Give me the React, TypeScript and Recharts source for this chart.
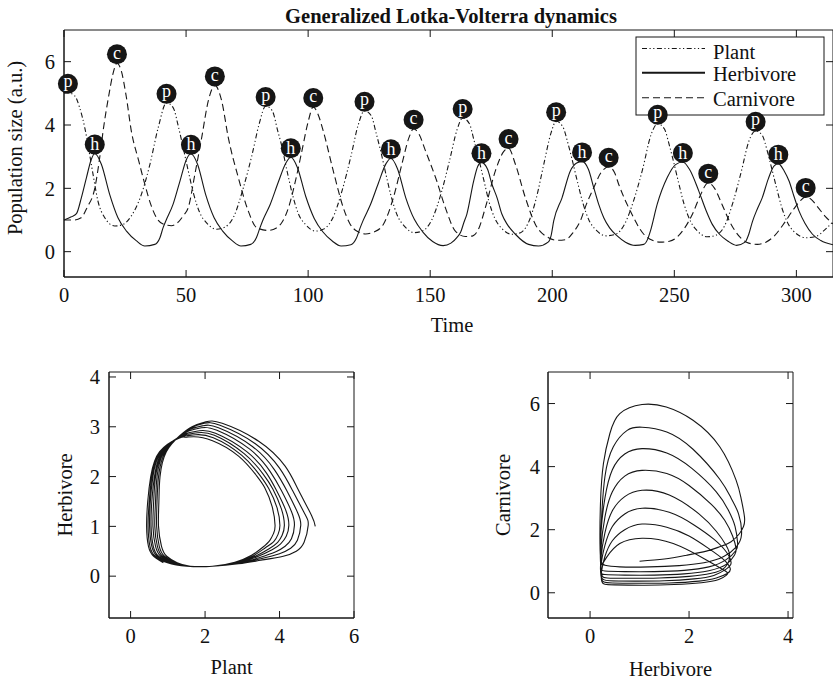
import React from "react";
import { LineChart, Line, XAxis, YAxis, ReferenceArea } from "recharts";

const FONT = "'Liberation Serif', 'Times New Roman', Times, serif";
const INK = "#161616";

// axis ticks
const timeTicks = [0, 50, 100, 150, 200, 250, 300];
const popTicks = [0, 2, 4, 6];
const phPlantTicks = [0, 2, 4, 6];
const phHerbTicks = [0, 1, 2, 3, 4];
const hcHerbTicks = [0, 2, 4];
const hcCarnTicks = [0, 2, 4, 6];

// time series [time, value]
const plantSeries: [number, number][] = [
  [0, 5.0], [1.5, 5.02], [4.4, 4.92], [6.4, 4.55], [8.5, 3.92], [10.5, 3.07], [11.9, 2.44], [13.9, 1.6], [16.7, 1.07], [20.8, 0.81], [24.2, 0.86], [27.6, 1.13], [31.7, 1.81], [35.2, 2.76], [38.6, 3.92],
  [42, 4.7], [44.7, 4.55], [47, 3.9], [48.2, 3.5], [50.9, 2.55], [53, 1.85], [55.5, 1.25], [58.5, 0.9], [62.5, 0.71], [66, 0.78], [69.5, 1.1], [73.4, 2.0], [77, 3.05], [80, 4.05],
  [82.6, 4.6], [85.3, 4.45], [87.6, 3.8], [89, 3.4], [91.5, 2.5], [93.6, 1.8], [96, 1.2], [99, 0.85], [103, 0.65], [106.5, 0.72], [110, 1.05], [114, 1.95], [117.5, 3.0], [120.5, 4.0],
  [123.1, 4.45], [125.8, 4.3], [128, 3.7], [129.5, 3.25], [132, 2.4], [134, 1.75], [136.5, 1.15], [139.5, 0.8], [143.5, 0.6], [147, 0.66], [150.5, 0.98], [154.5, 1.85], [158, 2.9], [161, 3.85],
  [163.3, 4.22], [166, 4.05], [168, 3.5], [169.5, 3.05], [172, 2.25], [174, 1.6], [176.5, 1.05], [179.5, 0.72], [183.5, 0.55], [187, 0.6], [190, 0.88], [193.5, 1.7], [196.5, 2.75], [199.5, 3.75],
  [201.6, 4.12], [204.3, 3.95], [206.5, 3.4], [208, 2.95], [210.5, 2.15], [212.5, 1.55], [215, 1.0], [218, 0.68], [222, 0.5], [226, 0.55], [229.5, 0.85], [233.5, 1.65], [237, 2.6], [240.5, 3.7],
  [243.2, 4.04], [245.9, 3.88], [248, 3.35], [249.5, 2.9], [252, 2.1], [254, 1.5], [256.5, 0.98], [259.5, 0.65], [263.5, 0.47], [267, 0.52], [270.5, 0.8], [274, 1.55], [277.5, 2.55], [280.5, 3.48],
  [283.3, 3.82], [286, 3.68], [288, 3.2], [289.5, 2.75], [292, 1.98], [294, 1.4], [296.5, 0.9], [299.5, 0.6], [304, 0.44], [308, 0.48], [311.5, 0.68], [315, 0.95],
];

const herbSeries: [number, number][] = [
  [0, 1.0], [3, 1.1], [5.1, 1.2], [7.1, 1.7], [9.2, 2.34], [11.2, 2.92], [12.6, 3.1], [15.3, 2.76], [18.7, 1.81], [22.1, 1.07], [25.6, 0.65], [29.7, 0.34], [33.1, 0.18], [37.2, 0.23], [39.3, 0.44], [40.6, 0.76], [41.7, 0.97], [44.7, 1.5], [47.5, 2.23], [50.2, 2.92],
  [52, 3.09], [54.7, 2.76], [58, 1.81], [61.5, 1.07], [65, 0.65], [69, 0.34], [72.5, 0.18], [76.5, 0.23], [78.8, 0.44], [80.3, 0.76], [81.5, 1.0], [84.5, 1.5], [87.8, 2.2], [90.9, 2.8],
  [92.9, 2.98], [95.6, 2.66], [99, 1.75], [102.5, 1.05], [106, 0.63], [110, 0.33], [113.5, 0.18], [117.5, 0.22], [119.8, 0.43], [121.3, 0.75], [122.5, 0.98], [125.5, 1.48], [128.8, 2.17], [131.9, 2.78],
  [133.9, 2.95], [136.6, 2.62], [140, 1.7], [143.5, 1.02], [147, 0.62], [151, 0.32], [155.3, 0.19], [158.5, 0.27], [161, 0.45], [162.5, 0.62], [163.8, 0.92], [165, 1.18], [167.8, 2.23], [169.5, 2.7],
  [171, 2.82], [173.5, 2.6], [175.3, 2.13], [177.4, 1.7], [179.4, 1.18], [181.5, 0.87], [184.9, 0.55], [190.3, 0.23], [194.4, 0.18], [198.3, 0.3], [199.5, 0.5], [200.6, 0.97], [204, 1.7], [207.4, 2.55], [210, 2.8],
  [212.2, 2.85], [214.8, 2.6], [217, 2.02], [219, 1.5], [221.1, 1.07], [223.5, 0.75], [226.6, 0.5], [230, 0.3], [234, 0.2], [237.5, 0.23], [239, 0.38], [240.2, 0.65], [243, 1.5], [247.1, 2.34], [250.5, 2.75],
  [253.5, 2.83], [256.2, 2.6], [260, 1.92], [263, 1.3], [265.5, 0.87], [268.5, 0.55], [272, 0.33], [275.5, 0.2], [279, 0.3], [280.5, 0.55], [282, 0.95], [284, 1.35], [286, 1.7], [288.5, 2.3], [290.8, 2.7],
  [292.6, 2.78], [295, 2.55], [297, 2.23], [299, 1.75], [301.1, 1.28], [303.5, 0.9], [306.6, 0.55], [310, 0.35], [315, 0.22],
];

const carnSeries: [number, number][] = [
  [0, 1.0], [4, 1.0], [7, 1.07], [9.5, 1.4], [12.6, 2.0], [14.5, 2.9], [16, 3.8], [18.5, 5.0], [20, 5.6], [21.7, 5.95], [23.5, 5.7], [25.5, 4.9], [27.6, 3.8], [30.5, 2.9], [33.1, 2.13], [35.5, 1.5], [37.9, 1.07], [41, 0.86], [44, 0.82], [47, 0.95], [49, 1.15],
  [50.9, 1.39], [53.6, 2.44], [56.4, 3.6], [59.1, 4.76], [61.8, 5.25], [64.6, 4.76], [67.3, 3.6], [71.4, 2.34], [75.5, 1.28], [78.9, 0.76], [83.5, 0.67], [87, 0.75], [89.5, 0.95],
  [92, 1.4], [95, 2.3], [97.5, 3.2], [100, 4.1], [102.1, 4.57], [104, 4.35], [106.2, 3.81], [110.3, 2.55], [114.4, 1.39], [117, 0.9], [119.9, 0.65], [123.5, 0.56], [127, 0.62], [130.8, 0.86],
  [134.9, 1.7], [138.4, 2.76], [141.3, 3.6], [143.2, 3.88], [145.5, 3.7], [148, 3.2], [152.7, 2.23], [156.2, 1.39], [160.3, 0.65], [164.4, 0.48], [167.5, 0.5], [170, 0.75],
  [172.6, 1.39], [176.7, 2.55], [180, 3.15], [182.1, 3.27], [184.9, 2.76], [189, 1.7], [193.1, 0.86], [198.5, 0.44], [202, 0.36], [205.5, 0.38], [208.5, 0.6],
  [211.5, 0.97], [214, 1.5], [217, 2.02], [220, 2.5], [223.1, 2.68], [225.5, 2.5], [227.2, 2.13], [232, 1.28], [237.5, 0.55], [241, 0.36], [244.3, 0.3], [248, 0.33], [251, 0.45],
  [254, 0.72], [257.5, 1.2], [260.5, 1.75], [263.9, 2.18], [266.5, 2.0], [269.5, 1.5], [273, 0.9], [277, 0.45], [280.5, 0.27], [284, 0.23], [287.5, 0.3], [291, 0.5],
  [295, 0.9], [298.5, 1.3], [301.5, 1.6], [303.8, 1.73], [306.5, 1.62], [309, 1.38], [312, 1.1], [315, 0.88],
];

// peaks, labelled with a letter marker
const plantPeaks: [number, number][] = [[1.6, 5.02], [42, 4.7], [82.6, 4.6], [123.1, 4.45], [163.3, 4.22], [201.6, 4.12], [243.2, 4.04], [283.3, 3.82]];
const herbPeaks: [number, number][] = [[12.6, 3.1], [52, 3.09], [92.9, 2.98], [133.9, 2.95], [171, 2.82], [212.2, 2.85], [253.5, 2.83], [292.6, 2.78]];
const carnPeaks: [number, number][] = [[21.7, 5.95], [61.8, 5.25], [102.1, 4.57], [143.2, 3.88], [182.1, 3.27], [223.1, 2.68], [263.9, 2.18], [303.8, 1.73]];

// phase path: [plant, herbivore]
const plantHerbPath: [number, number][] = [
  [4.96, 1.0], [4.86, 1.22], [4.5, 1.74], [4.15, 2.21], [3.44, 2.71], [2.46, 3.07], [2.02, 3.1], [1.65, 3.0], [1.32, 2.82],
  [0.96, 2.5], [0.79, 2.0], [0.76, 1.5], [0.75, 1.0], [0.83, 0.6], [0.97, 0.4], [1.25, 0.27], [1.6, 0.2],
  [2.2, 0.2], [2.9, 0.25], [3.5, 0.32], [4.1, 0.4], [4.45, 0.5], [4.66, 0.68],
  [4.77, 1.02], [4.68, 1.25], [4.35, 1.72], [4.0, 2.17], [3.35, 2.66], [2.4, 3.03], [1.98, 3.07], [1.63, 2.98], [1.32, 2.81],
  [0.93, 2.5], [0.75, 2.0], [0.71, 1.5], [0.7, 1.0], [0.77, 0.6], [0.91, 0.4], [1.2, 0.27], [1.58, 0.2],
  [2.2, 0.2], [2.9, 0.26], [3.5, 0.35], [4.0, 0.45], [4.3, 0.56], [4.48, 0.72],
  [4.57, 1.02], [4.49, 1.27], [4.2, 1.71], [3.87, 2.13], [3.28, 2.6], [2.36, 2.98], [1.94, 3.02], [1.6, 2.95], [1.31, 2.8],
  [0.9, 2.5], [0.71, 2.0], [0.67, 1.5], [0.65, 1.0], [0.72, 0.6], [0.86, 0.4], [1.16, 0.27], [1.57, 0.2],
  [2.2, 0.2], [2.9, 0.26], [3.45, 0.37], [3.9, 0.49], [4.15, 0.6], [4.32, 0.75],
  [4.4, 1.02], [4.32, 1.3], [4.05, 1.72], [3.75, 2.1], [3.2, 2.55], [2.32, 2.93], [1.9, 2.98], [1.58, 2.92], [1.31, 2.8],
  [0.88, 2.5], [0.67, 2.0], [0.62, 1.5], [0.6, 1.0], [0.67, 0.6], [0.81, 0.4], [1.11, 0.27], [1.55, 0.2],
  [2.2, 0.2], [2.9, 0.27], [3.4, 0.39], [3.8, 0.53], [4.03, 0.65], [4.18, 0.8],
  [4.25, 1.02], [4.17, 1.32], [3.92, 1.72], [3.65, 2.07], [3.12, 2.5], [2.28, 2.87], [1.85, 2.92], [1.56, 2.88], [1.31, 2.8],
  [0.85, 2.5], [0.64, 2.0], [0.57, 1.5], [0.55, 1.0], [0.61, 0.6], [0.75, 0.4], [1.06, 0.27], [1.54, 0.2],
  [2.2, 0.2], [2.85, 0.27], [3.35, 0.4], [3.72, 0.55], [3.95, 0.68], [4.07, 0.82],
  [4.13, 1.02], [4.05, 1.35], [3.82, 1.75], [3.56, 2.05], [3.05, 2.46], [2.25, 2.83], [1.8, 2.88], [1.53, 2.85], [1.31, 2.79],
  [0.82, 2.5], [0.6, 2.0], [0.53, 1.5], [0.51, 1.0], [0.57, 0.6], [0.71, 0.4], [1.02, 0.27], [1.52, 0.2],
  [2.2, 0.2], [2.85, 0.28], [3.3, 0.41], [3.62, 0.57], [3.85, 0.7], [3.96, 0.84],
  [4.01, 1.02], [3.93, 1.38], [3.71, 1.76], [3.47, 2.03], [2.98, 2.43], [2.22, 2.78], [1.75, 2.84], [1.5, 2.82], [1.3, 2.78],
  [0.8, 2.5], [0.57, 2.0], [0.5, 1.5], [0.47, 1.0], [0.52, 0.6], [0.66, 0.4], [0.99, 0.27], [1.51, 0.2],
  [2.2, 0.2], [2.8, 0.28], [3.25, 0.42], [3.55, 0.58], [3.74, 0.72], [3.84, 0.86],
  [3.88, 1.02], [3.8, 1.4], [3.6, 1.78], [3.38, 2.02], [2.9, 2.41], [2.2, 2.72], [1.7, 2.8], [1.48, 2.79], [1.3, 2.77],
  [0.78, 2.5], [0.54, 2.0], [0.46, 1.5], [0.43, 1.0], [0.48, 0.6], [0.62, 0.4], [0.88, 0.27],
];

// phase path: [herbivore, carnivore]
const herbCarnPath: [number, number][] = [
  [1.0, 1.0], [1.5, 1.07], [1.95, 1.19], [2.35, 1.32], [2.62, 1.46], [2.85, 1.62], [3.02, 1.88], [3.1, 2.1],
  [3.12, 2.4], [3.05, 3.0], [2.95, 3.57], [2.62, 4.63], [2.08, 5.47], [1.54, 5.89], [1.05, 5.97], [0.6, 5.68], [0.4, 5.05], [0.27, 4.1], [0.21, 2.83], [0.2, 1.56], [0.22, 1.0], [0.3, 0.87], [0.6, 0.82], [1.2, 0.82], [1.8, 0.86], [2.3, 0.95], [2.7, 1.15], [2.95, 1.45], [3.06, 1.85],
  [3.0, 2.5], [2.85, 3.0], [2.62, 3.6], [2.08, 4.55], [1.55, 5.1], [1.05, 5.25], [0.75, 5.15], [0.47, 4.63], [0.3, 3.68], [0.23, 2.3], [0.21, 1.3], [0.22, 0.8], [0.3, 0.69], [0.7, 0.67], [1.3, 0.67], [1.9, 0.71], [2.4, 0.82], [2.75, 1.05], [2.95, 1.35], [2.98, 1.6],
  [2.93, 2.1], [2.8, 2.6], [2.55, 3.2], [2.05, 3.95], [1.55, 4.43], [1.05, 4.57], [0.7, 4.4], [0.45, 3.9], [0.3, 3.0], [0.22, 1.9], [0.21, 1.0], [0.23, 0.65], [0.3, 0.58], [0.7, 0.56], [1.3, 0.56], [1.9, 0.6], [2.4, 0.7], [2.75, 0.9], [2.92, 1.2], [2.95, 1.4],
  [2.88, 1.8], [2.72, 2.3], [2.45, 2.8], [2.0, 3.4], [1.55, 3.78], [1.05, 3.88], [0.7, 3.7], [0.45, 3.2], [0.3, 2.4], [0.22, 1.4], [0.22, 0.7], [0.25, 0.52], [0.35, 0.47], [0.8, 0.46], [1.4, 0.47], [2.0, 0.52], [2.45, 0.62], [2.72, 0.8], [2.82, 1.15],
  [2.75, 1.5], [2.55, 1.95], [2.2, 2.5], [1.6, 3.1], [1.05, 3.25], [0.7, 3.05], [0.45, 2.6], [0.3, 1.9], [0.22, 1.1], [0.22, 0.55], [0.27, 0.42], [0.4, 0.38], [0.9, 0.37], [1.5, 0.38], [2.1, 0.44], [2.5, 0.55], [2.75, 0.75], [2.85, 0.95],
  [2.75, 1.3], [2.5, 1.7], [2.1, 2.15], [1.6, 2.55], [1.05, 2.68], [0.7, 2.5], [0.45, 2.1], [0.3, 1.5], [0.22, 0.85], [0.23, 0.45], [0.28, 0.34], [0.45, 0.31], [1.0, 0.3], [1.6, 0.31], [2.2, 0.37], [2.55, 0.47], [2.78, 0.62], [2.83, 0.78],
  [2.7, 1.05], [2.4, 1.4], [2.0, 1.8], [1.55, 2.08], [1.05, 2.18], [0.7, 2.0], [0.45, 1.65], [0.3, 1.15], [0.23, 0.65], [0.24, 0.35], [0.3, 0.27], [0.5, 0.25], [1.1, 0.24], [1.7, 0.26], [2.25, 0.32], [2.6, 0.42], [2.75, 0.55], [2.78, 0.62],
  [2.7, 0.72], [2.35, 1.04], [1.68, 1.56], [1.05, 1.73], [0.6, 1.56], [0.34, 1.14], [0.24, 0.88],
];

const toTV = (rows: [number, number][]) => rows.map(([t, v]) => ({ t, v }));
const toXY = (rows: [number, number][]) => rows.map(([x, y]) => ({ x, y }));

const tickStyle = { fill: "#111", fontSize: 20.5, fontFamily: FONT };
const textStyle = { fill: "#111", fontSize: 20.5, fontFamily: FONT };

// baseline shift so each glyph sits in the middle of its disc
const LETTER_DY: Record<string, number> = { p: 3.5, h: 5.5, c: 4.5 };

function makeMarker(letter: string) {
  return (props: any) => {
    const { cx, cy, index } = props;
    if (typeof cx !== "number" || typeof cy !== "number") return <g key={`${letter}-${index}`} />;
    const y = cy - 9;
    return (
      <g key={`${letter}-${index}`}>
        <circle cx={cx} cy={y} r={10} fill={INK} />
        <text x={cx} y={y + LETTER_DY[letter]} textAnchor="middle" fill="#fff" fontSize={18} fontFamily={FONT}>
          {letter}
        </text>
      </g>
    );
  };
}

// bottom-axis tick label that also puts the mirrored inward tick on the top edge
function xTickWithMirror(topEdge: number) {
  return (props: any) => {
    const { x, y, payload, index } = props;
    return (
      <g key={`xt-${index}`}>
        <text x={x} y={y} dy="0.71em" textAnchor="middle" {...tickStyle}>{payload.value}</text>
        <line x1={x} x2={x} y1={topEdge} y2={topEdge + 7} stroke={INK} />
      </g>
    );
  };
}

// left-axis tick label that also puts the mirrored inward tick on the right edge
function yTickWithMirror(rightEdge: number) {
  return (props: any) => {
    const { x, y, payload, index } = props;
    return (
      <g key={`yt-${index}`}>
        <text x={x} y={y} dy="0.355em" textAnchor="end" {...tickStyle}>{payload.value}</text>
        <line x1={rightEdge - 7} x2={rightEdge} y1={y} y2={y} stroke={INK} />
      </g>
    );
  };
}

function TimeSeries() {
  const margin = { top: 30, right: 0, bottom: 0, left: 24 };
  const width = 833;
  return (
    <LineChart width={width} height={310} margin={margin}>
      <XAxis type="number" dataKey="t" domain={[0, 315]} ticks={timeTicks} interval={0}
        tickSize={-7} tickMargin={17} stroke={INK} tick={xTickWithMirror(margin.top)} height={33} />
      <YAxis type="number" domain={[-0.8, 7]} ticks={popTicks} interval={0}
        tickSize={-7} tickMargin={16} stroke={INK} tick={yTickWithMirror(width - margin.right)} width={40} />
      <ReferenceArea x1={0} x2={315} y1={-0.8} y2={7}
        fill="none" fillOpacity={0} stroke={INK} strokeWidth={1} ifOverflow="visible" />
      <Line data={toTV(plantSeries)} dataKey="v" type="monotone" stroke={INK}
        strokeWidth={1.1} strokeDasharray="5 2.5 1.2 2.5 1.2 2.5" dot={false} activeDot={false} isAnimationActive={false} />
      <Line data={toTV(herbSeries)} dataKey="v" type="monotone" stroke={INK}
        strokeWidth={1.1} dot={false} activeDot={false} isAnimationActive={false} />
      <Line data={toTV(carnSeries)} dataKey="v" type="monotone" stroke={INK}
        strokeWidth={1.1} strokeDasharray="7 4" dot={false} activeDot={false} isAnimationActive={false} />
      <Line data={toTV(plantPeaks)} dataKey="v" stroke="none" legendType="none"
        dot={makeMarker("p")} activeDot={false} isAnimationActive={false} />
      <Line data={toTV(herbPeaks)} dataKey="v" stroke="none" legendType="none"
        dot={makeMarker("h")} activeDot={false} isAnimationActive={false} />
      <Line data={toTV(carnPeaks)} dataKey="v" stroke="none" legendType="none"
        dot={makeMarker("c")} activeDot={false} isAnimationActive={false} />
    </LineChart>
  );
}

interface PhaseProps {
  path: [number, number][];
  width: number;
  margin: { top: number; right: number; bottom: number; left: number };
  xDomain: [number, number];
  yDomain: [number, number];
  xTicks: number[];
  yTicks: number[];
  yTickMargin: number;
}

function Phase({ path, width, margin, xDomain, yDomain, xTicks, yTicks, yTickMargin }: PhaseProps) {
  const pts = toXY(path);
  return (
    <LineChart width={width} height={330} margin={margin}>
      <XAxis type="number" dataKey="x" domain={xDomain} ticks={xTicks} interval={0}
        tickSize={-7} tickMargin={17} stroke={INK} tick={xTickWithMirror(margin.top)} height={42} />
      <YAxis type="number" domain={yDomain} ticks={yTicks} interval={0}
        tickSize={-7} tickMargin={yTickMargin} stroke={INK} tick={yTickWithMirror(width - margin.right)} width={50} />
      {/* box around the plot area */}
      <ReferenceArea x1={xDomain[0]} x2={xDomain[1]} y1={yDomain[0]} y2={yDomain[1]}
        fill="none" fillOpacity={0} stroke={INK} strokeWidth={1} ifOverflow="visible" />
      <Line data={pts} dataKey="y" type="natural" stroke={INK} strokeWidth={1.1}
        dot={false} activeDot={false} isAnimationActive={false} />
    </LineChart>
  );
}

function LegendBox() {
  const rows = [
    { name: "Plant", y: 48.5, base: 59, dash: "5 2.5 1.2 2.5 1.2 2.5", w: 1.1 },
    { name: "Herbivore", y: 72.7, base: 81, dash: undefined, w: 2 },
    { name: "Carnivore", y: 97.7, base: 106, dash: "7 4", w: 1.1 },
  ];
  return (
    <svg width={833} height={140} style={{ position: "absolute", left: 0, top: 0 }}>
      <rect x={636} y={37} width={188} height={78} fill="#fff" stroke={INK} strokeWidth={1} />
      {rows.map((r) => (
        <g key={r.name}>
          <line x1={642} x2={705} y1={r.y} y2={r.y} stroke={INK} strokeWidth={r.w} strokeDasharray={r.dash} />
          <text x={713} y={r.base} {...textStyle}>{r.name}</text>
        </g>
      ))}
    </svg>
  );
}

export default function App() {
  return (
    <div style={{ position: "absolute", left: 0, top: 0, width: 833, height: 681, background: "#fff", overflow: "hidden" }}>
      <LegendBox />
      <div style={{ position: "absolute", left: 0, top: 0 }}>
        <TimeSeries />
      </div>
      <div style={{ position: "absolute", left: 0, top: 330 }}>
        <Phase path={plantHerbPath} width={370} margin={{ top: 42, right: 16, bottom: 0, left: 59 }}
          xDomain={[-0.58, 6]} yDomain={[-0.84, 4.1]} xTicks={phPlantTicks} yTicks={phHerbTicks} yTickMargin={16} />
      </div>
      <div style={{ position: "absolute", left: 480, top: 330 }}>
        <Phase path={herbCarnPath} width={340} margin={{ top: 42, right: 27, bottom: 0, left: 18 }}
          xDomain={[-0.85, 4.1]} yDomain={[-0.8, 7]} xTicks={hcHerbTicks} yTicks={hcCarnTicks} yTickMargin={15} />
      </div>
      <svg width={833} height={681} style={{ position: "absolute", left: 0, top: 0, pointerEvents: "none" }}>
        <text x={451} y={22.5} textAnchor="middle" fontWeight="bold" {...textStyle}>
          Generalized Lotka-Volterra dynamics
        </text>
        <text x={452} y={332} textAnchor="middle" {...textStyle}>Time</text>
        <text transform="translate(22,148) rotate(-90)" textAnchor="middle" {...textStyle}>Population size (a.u.)</text>
        <text x={231.7} y={674} textAnchor="middle" {...textStyle}>Plant</text>
        <text transform="translate(71.5,495) rotate(-90)" textAnchor="middle" {...textStyle}>Herbivore</text>
        <text transform="translate(510,495) rotate(-90)" textAnchor="middle" {...textStyle}>Carnivore</text>
        <text x={670.5} y={676} textAnchor="middle" {...textStyle}>Herbivore</text>
      </svg>
    </div>
  );
}
